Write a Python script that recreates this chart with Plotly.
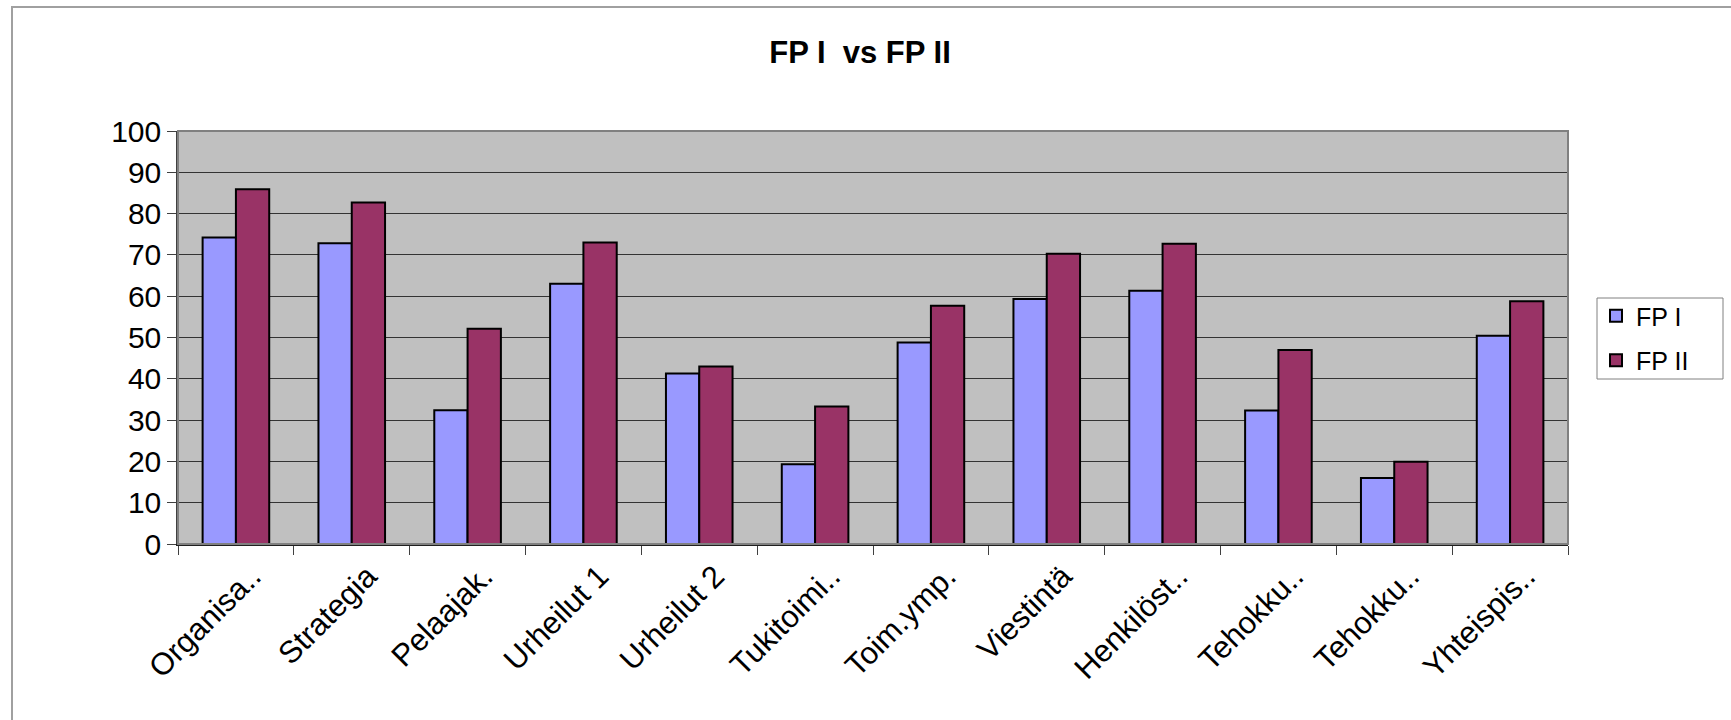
import plotly.graph_objects as go

categories = ["Organisa..", "Strategia", "Pelaajak.", "Urheilut 1", "Urheilut 2",
              "Tukitoimi..", "Toim.ymp.", "Viestintä", "Henkilöst..", "Tehokku..",
              "Tehokku..\u200b", "Yhteispis.."]
fp1 = [74.2, 72.8, 32.4, 63.0, 41.3, 19.3, 48.8, 59.3, 61.3, 32.3, 16.0, 50.4]
fp2 = [85.9, 82.7, 52.1, 73.0, 43.0, 33.3, 57.7, 70.3, 72.7, 47.0, 19.9, 58.8]
series_names = ["FP I", "FP II"]
y_ticks = list(range(0, 101, 10))

FONT = "Arial, Liberation Sans, sans-serif"

W, H = 1731, 720
L, R, T, B = 178, 1568, 131, 544
pw, ph = R - L, B - T


def px_x(px):
    return (px - L) / pw


def px_y(py):
    return (B - py) / ph


fig = go.Figure()
fig.add_trace(go.Bar(x=categories, y=fp1, name=series_names[0], legendgroup="a",
                     marker=dict(color="#9999FF", line=dict(color="#000000", width=2))))
fig.add_trace(go.Bar(x=categories, y=fp2, name=series_names[1], legendgroup="b",
                     marker=dict(color="#993366", line=dict(color="#000000", width=2))))

fig.update_layout(
    width=W, height=H,
    margin=dict(l=L, r=W - R, t=T, b=H - B, pad=0),
    paper_bgcolor="white",
    plot_bgcolor="#C0C0C0",
    barmode="group",
    bargap=0.425,
    bargroupgap=0,
    font=dict(family=FONT, color="black"),
    title=dict(text="<b>FP I  vs FP II</b>", x=860 / W, xanchor="center",
               y=1 - 52 / H, yanchor="middle", yref="container", xref="container",
               font=dict(size=31, family=FONT, color="black")),
    legend=dict(x=px_x(1596), y=px_y(293), xanchor="left", yanchor="top",
                borderwidth=0, bgcolor="rgba(0,0,0,0)",
                font=dict(size=25, family=FONT, color="black"),
                traceorder="grouped", tracegroupgap=9,
                itemwidth=30),
    showlegend=True,
)

fig.update_xaxes(
    type="category",
    tickson="boundaries",
    ticks="outside", ticklen=9, tickcolor="#404040", tickwidth=1,
    tickangle=-45,
    ticklabelshift=16,
    tickfont=dict(size=31, family=FONT, color="black"),
    showline=True, linecolor="#202020", linewidth=1.5,
    showgrid=False,
)
fig.update_yaxes(
    range=[0, 100],
    tickmode="array", tickvals=y_ticks,
    ticks="outside", ticklen=9, tickcolor="#404040", tickwidth=1,
    tickfont=dict(size=30, family=FONT, color="black"),
    showline=True, linecolor="#404040", linewidth=1.5,
    showgrid=True, gridcolor="#333333", gridwidth=1,
    zeroline=False,
)

# plot-area border, legend box and chart-area border
fig.add_shape(type="rect", xref="paper", yref="paper", x0=0, x1=1, y0=0, y1=1,
              line=dict(color="#808080", width=2), layer="above")
fig.add_shape(type="rect", xref="paper", yref="paper",
              x0=px_x(1597), x1=px_x(1723), y0=px_y(379), y1=px_y(298),
              fillcolor="white", line=dict(color="#808080", width=1), layer="below")
fig.add_shape(type="rect", xref="paper", yref="paper",
              x0=px_x(12), x1=px_x(1745), y0=px_y(735), y1=px_y(7),
              line=dict(color="#A0A0A0", width=2), layer="above")

fig.write_html(
    "out.html",
    config={"displayModeBar": False},
    post_script="document.body.style.margin='0px';document.body.style.overflow='hidden';",
)
